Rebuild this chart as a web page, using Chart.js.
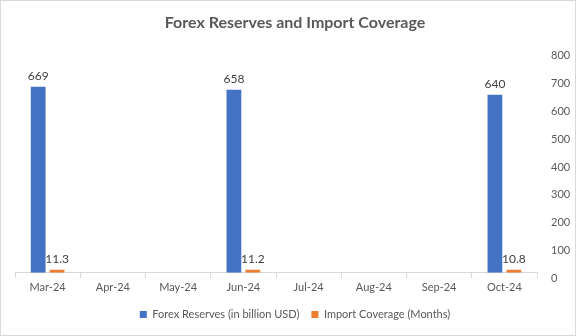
<!DOCTYPE html>
<html>
<head>
<meta charset="utf-8">
<script src="https://cdn.jsdelivr.net/npm/chart.js@4"></script>
<style>
  html, body { margin: 0; padding: 0; background: #fff; }
  #wrap { position: relative; width: 576px; height: 336px; box-sizing: border-box; border: 1px solid #d9d9d9; }
</style>
</head>
<body>
<div id="wrap"><canvas id="chart"></canvas></div>
<script>
const months = ['Mar-24', 'Apr-24', 'May-24', 'Jun-24', 'Jul-24', 'Aug-24', 'Sep-24', 'Oct-24'];
const forexReserves = [669, null, null, 658, null, null, null, 640];
const importCoverage = [11.3, null, null, 11.2, null, null, null, 10.8];
const yTicks = [0, 100, 200, 300, 400, 500, 600, 700, 800];

const FONT = 'Lato, "Open Sans", sans-serif';
const GRAY = '#595959';

// value labels above each bar
const barLabels = {
  id: 'barLabels',
  afterDatasetsDraw(chart) {
    const ctx = chart.ctx;
    ctx.save();
    ctx.font = '12px ' + FONT;
    ctx.fillStyle = '#404040';
    ctx.textAlign = 'center';
    ctx.textBaseline = 'bottom';
    chart.data.datasets.forEach((ds, i) => {
      chart.getDatasetMeta(i).data.forEach((bar, j) => {
        const v = ds.data[j];
        if (v == null) return;
        ctx.fillText(String(v), bar.x, bar.y - 5);
      });
    });
    ctx.restore();
  }
};

new Chart(document.getElementById('chart'), {
  type: 'bar',
  data: {
    labels: months,
    datasets: [
      { label: 'Forex Reserves (in billion USD)', data: forexReserves, backgroundColor: '#4472C4' },
      { label: 'Import Coverage (Months)', data: importCoverage, backgroundColor: '#ED7D31' }
    ]
  },
  options: {
    responsive: true,
    maintainAspectRatio: false,
    animation: false,
    categoryPercentage: 0.58,
    barPercentage: 0.78,
    layout: { padding: { left: 14, right: 0, top: 6, bottom: 5 } },
    plugins: {
      title: {
        display: true,
        text: 'Forex Reserves and Import Coverage',
        color: GRAY,
        font: { family: FONT, size: 16, weight: 'bold' },
        padding: { top: 6, bottom: 18 }
      },
      legend: {
        position: 'bottom',
        labels: { color: GRAY, font: { family: FONT, size: 11 }, boxWidth: 7, boxHeight: 7, padding: 12 }
      },
      tooltip: { enabled: false }
    },
    scales: {
      x: {
        grid: { display: true, offset: true, drawOnChartArea: false, drawTicks: true, tickLength: 5, color: '#d9d9d9' },
        border: { display: true, color: '#d9d9d9' },
        ticks: { color: GRAY, font: { family: FONT, size: 11 }, padding: 3 }
      },
      y: {
        position: 'right',
        min: 0,
        max: 800,
        afterBuildTicks(axis) { axis.ticks = yTicks.map(v => ({ value: v })); },
        afterFit(axis) { axis.width = 38; },
        grid: { display: false, drawTicks: false },
        border: { display: false },
        ticks: { color: GRAY, font: { family: FONT, size: 11 }, padding: 14, align: 'start' }
      }
    }
  },
  plugins: [barLabels]
});
</script>
</body>
</html>
